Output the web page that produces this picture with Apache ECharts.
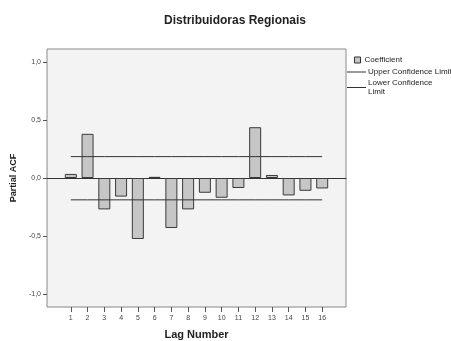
<!DOCTYPE html>
<html>
<head>
<meta charset="utf-8">
<script src="https://cdn.jsdelivr.net/npm/echarts@6/dist/echarts.min.js"></script>
<style>
html,body{margin:0;padding:0;background:#fff;}
#c{width:451px;height:341px;}
</style>
</head>
<body>
<div id="c"></div>
<script>
const lags = [1, 2, 3, 4, 5, 6, 7, 8, 9, 10, 11, 12, 13, 14, 15, 16];
const coefficient = [0.035, 0.38, -0.27, -0.16, -0.525, 0.01, -0.43, -0.27, -0.127, -0.17, -0.086, 0.437, 0.026, -0.15, -0.11, -0.09];
const upperCL = [0.184, 0.184, 0.184, 0.184, 0.184, 0.184, 0.184, 0.184, 0.184, 0.184, 0.184, 0.184, 0.184, 0.184, 0.184, 0.184];
const lowerCL = [-0.188, -0.188, -0.188, -0.188, -0.188, -0.188, -0.188, -0.188, -0.188, -0.188, -0.188, -0.188, -0.188, -0.188, -0.188, -0.188];
const yTicks = [-1, -0.5, 0, 0.5, 1];
const titleText = 'Distribuidoras Regionais';

const chart = echarts.init(document.getElementById('c'), null, {renderer:'canvas'});
const FONT = 'Liberation Sans, Arial, sans-serif';
const yMin = -1.11, yMax = 1.11;
const xMin = -0.42, xMax = 17.42;
const pair = (arr) => lags.map((l, i) => [l, arr[i]]);
chart.setOption({
  animation: false,
  backgroundColor: '#ffffff',
  textStyle: {fontFamily: FONT},
  title: {
    text: titleText, left: 230, top: 10, textAlign: 'center',
    textStyle: {fontFamily: FONT, fontSize: 12, fontWeight: 'bold', color: '#222'}
  },
  legend: [
    {
      data: [{name: 'Coefficient', icon: 'rect', itemStyle: {color: '#c6c6c6', borderColor: '#333', borderWidth: 1}}],
      orient: 'vertical', left: 354, top: 56, itemWidth: 6, itemHeight: 6, itemGap: 2,
      textStyle: {fontFamily: FONT, fontSize: 8, color: '#222', padding: [0,0,0,-1]},
      padding: 0, selectedMode: false
    },
    {
      data: [{name: 'Upper Confidence Limit', icon: 'rect'}, {name: 'Lower Confidence Limit', icon: 'rect'}],
      orient: 'vertical', left: 347, top: 67.5, itemWidth: 19, itemHeight: 1, itemGap: 2,
      itemStyle: {color: '#333', borderWidth: 0},
      formatter: function (n) { return n === 'Lower Confidence Limit' ? 'Lower Confidence\nLimit' : n; },
      textStyle: {fontFamily: FONT, fontSize: 8, lineHeight: 9, color: '#222', padding: [0,0,0,-3]},
      padding: 0, selectedMode: false
    }
  ],
  grid: [
    {left: 47, top: 49, width: 299, height: 258, show: true, outerBoundsMode: 'none', containLabel: false,
     backgroundColor: '#f3f3f3', borderColor: '#8a8a8a', borderWidth: 1}
  ],
  xAxis: [
    {type: 'value', min: xMin, max: xMax, position: 'bottom',
     axisLine: {show: false, onZero: false},
     axisTick: {show: true, customValues: lags, length: 5, lineStyle: {color: '#555'}},
     axisLabel: {customValues: lags, fontFamily: FONT, fontSize: 7, color: '#444', margin: 8},
     name: 'Lag Number', nameLocation: 'middle', nameGap: 22,
     nameTextStyle: {fontFamily: FONT, fontSize: 11, fontWeight: 'bold', color: '#222'},
     splitLine: {show: false}},
    {type: 'value', min: xMin, max: xMax, position: 'top',
     axisLine: {show: true, onZero: true, lineStyle: {color: '#333', width: 1}},
     axisTick: {show: false}, axisLabel: {show: false}, splitLine: {show: false}}
  ],
  yAxis: [
    {type: 'value', min: yMin, max: yMax, position: 'left',
     axisLine: {show: false, onZero: false},
     axisTick: {show: true, customValues: yTicks, length: 4, lineStyle: {color: '#555'}},
     axisLabel: {customValues: yTicks, fontFamily: FONT, fontSize: 7, color: '#444', margin: 6,
       formatter: function (v) { return v.toFixed(1).replace('.', ','); }},
     splitLine: {show: false},
     name: 'Partial ACF', nameLocation: 'middle', nameRotate: 90, nameGap: 28,
     nameTextStyle: {fontFamily: FONT, fontSize: 9, fontWeight: 'bold', color: '#222'}}
  ],
  series: [
    {name: 'Coefficient', type: 'bar', xAxisIndex: 0, yAxisIndex: 0, data: pair(coefficient), barWidth: 12,
     itemStyle: {color: '#c6c6c6', borderColor: '#3a3a3a', borderWidth: 1}},
    {name: 'Upper Confidence Limit', type: 'line', xAxisIndex: 0, yAxisIndex: 0, data: pair(upperCL),
     symbol: 'none', lineStyle: {color: '#333', width: 1}, itemStyle: {color: '#333'}, z: 3},
    {name: 'Lower Confidence Limit', type: 'line', xAxisIndex: 0, yAxisIndex: 0, data: pair(lowerCL),
     symbol: 'none', lineStyle: {color: '#333', width: 1}, itemStyle: {color: '#333'}, z: 3}
  ]
});
</script>
</body>
</html>
